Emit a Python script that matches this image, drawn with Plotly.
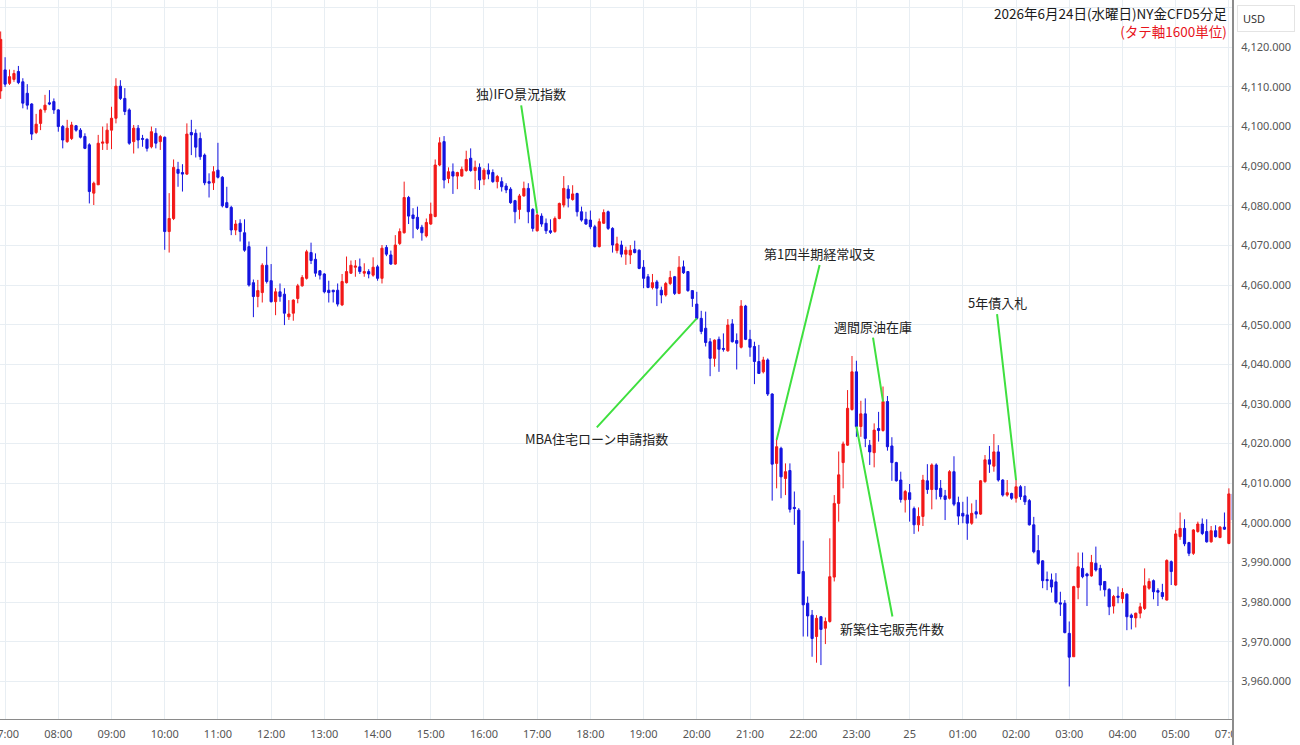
import pandas as pd
import plotly.graph_objects as go

# ---- data (5-minute bars, first bar 06:55) ----
open_ = [4109.0, 4114.3, 4110.9, 4111.9, 4113.9, 4111.3, 4108.4, 4105.7, 4098.5, 4100.8,
         4104.2, 4106.0, 4106.3, 4104.2, 4100.0, 4096.2, 4097.0, 4100.2, 4099.1, 4097.5,
         4095.4, 4083.2, 4085.3, 4095.8, 4095.8, 4099.1, 4102.1, 4110.2, 4107.1, 4104.2,
         4096.2, 4099.6, 4097.0, 4096.8, 4094.9, 4098.3, 4096.2, 4097.3, 4073.5, 4076.8,
         4089.2, 4088.4, 4088.0, 4098.5, 4098.3, 4097.0, 4092.8, 4086.1, 4085.8, 4089.0,
         4087.2, 4080.8, 4079.6, 4073.9, 4075.6, 4073.2, 4069.7, 4060.6, 4057.1, 4058.1,
         4065.0, 4061.1, 4055.8, 4058.3, 4057.7, 4052.0, 4052.9, 4056.6, 4059.8, 4061.7,
         4068.2, 4066.5, 4063.6, 4062.8, 4058.7, 4058.7, 4058.7, 4055.0, 4060.6, 4063.0,
         4064.5, 4064.6, 4063.0, 4063.4, 4062.5, 4064.6, 4061.7, 4069.5, 4067.6, 4065.3,
         4070.5, 4073.2, 4082.1, 4077.7, 4077.1, 4074.6, 4072.4, 4075.4, 4077.3, 4090.3,
         4096.2, 4086.9, 4088.6, 4087.5, 4087.5, 4088.9, 4092.0, 4088.9, 4089.7, 4086.7,
         4089.0, 4088.4, 4086.1, 4086.1, 4085.0, 4084.2, 4081.3, 4079.1, 4082.5, 4084.4,
         4079.1, 4073.7, 4077.4, 4075.6, 4073.7, 4073.5, 4076.8, 4080.2, 4084.2, 4081.6,
         4083.1, 4078.5, 4076.6, 4076.4, 4074.7, 4069.7, 4075.6, 4078.5, 4074.3, 4068.7,
         4070.1, 4067.8, 4067.6, 4069.0, 4068.8, 4064.5, 4062.1, 4059.4, 4060.8, 4058.7,
         4057.5, 4060.4, 4062.1, 4057.9, 4064.6, 4063.4, 4058.6, 4055.2, 4051.6, 4049.1,
         4045.7, 4041.5, 4046.3, 4044.0, 4043.4, 4050.2, 4046.0, 4044.3, 4054.7, 4046.3,
         4044.5, 4040.7, 4038.1, 4041.1, 4032.5, 4015.0, 4018.8, 4011.2, 4013.2, 4003.9,
         4003.2, 3987.7, 3979.7, 3976.7, 3971.3, 3976.3, 3973.4, 3975.1, 3986.3, 4004.9,
         4015.2, 4019.6, 4028.6, 4038.1, 4024.3, 4027.5, 4019.6, 4017.7, 4023.8, 4023.3,
         4030.6, 4019.4, 4015.2, 4010.8, 4005.8, 4007.6, 4003.6, 3999.5, 4001.6, 4010.6,
         4008.4, 4014.6, 4008.7, 4006.8, 4006.2, 4012.9, 4005.1, 4002.4, 4002.0, 3999.9,
         4002.8, 4002.2, 4010.4, 4015.9, 4014.3, 4017.9, 4010.8, 4007.0, 4007.4, 4006.2,
         4009.1, 4006.8, 4005.6, 3999.5, 3993.0, 3990.4, 3985.7, 3985.6, 3985.1, 3979.8,
         3979.7, 3972.1, 3966.2, 3983.7, 3988.5, 3987.1, 3986.6, 3989.8, 3988.5, 3985.2,
         3983.2, 3979.0, 3981.5, 3980.9, 3982.0, 3976.7, 3976.0, 3977.2, 3978.4, 3983.5,
         3985.4, 3982.9, 3982.4, 3980.5, 3990.2, 3984.3, 3996.5, 3998.6, 3995.0, 3992.3,
         3997.8, 3999.7, 3997.8, 3995.2, 3998.0, 3996.3, 3998.9, 3994.8, 4007.3]
high = [4124.0, 4117.5, 4114.4, 4114.3, 4115.3, 4112.2, 4110.7, 4105.9, 4103.2, 4104.5,
        4108.0, 4109.2, 4107.1, 4104.4, 4100.4, 4101.7, 4101.2, 4100.4, 4099.6, 4098.3,
        4095.8, 4086.1, 4097.9, 4100.0, 4100.8, 4105.0, 4112.2, 4111.7, 4109.7, 4104.6,
        4100.4, 4100.4, 4097.9, 4097.0, 4100.0, 4099.6, 4097.9, 4097.5, 4083.2, 4091.7,
        4091.1, 4090.5, 4100.8, 4101.7, 4099.3, 4098.5, 4093.2, 4088.2, 4090.0, 4095.9,
        4087.5, 4084.8, 4080.0, 4076.4, 4076.6, 4076.6, 4071.0, 4061.4, 4061.3, 4065.5,
        4069.7, 4065.3, 4059.2, 4060.4, 4059.2, 4056.2, 4056.4, 4060.3, 4062.5, 4068.9,
        4070.7, 4068.0, 4063.8, 4063.0, 4061.1, 4058.8, 4060.4, 4062.8, 4067.2, 4066.2,
        4066.3, 4066.7, 4065.5, 4064.0, 4067.0, 4065.1, 4070.1, 4070.1, 4068.7, 4072.6,
        4074.3, 4086.1, 4082.5, 4079.4, 4079.8, 4075.2, 4076.8, 4080.8, 4091.7, 4097.3,
        4097.6, 4089.7, 4090.7, 4088.6, 4089.9, 4093.9, 4094.5, 4091.4, 4090.7, 4089.5,
        4090.7, 4089.2, 4087.8, 4087.2, 4085.7, 4084.7, 4081.5, 4083.0, 4086.1, 4085.7,
        4079.4, 4078.1, 4078.1, 4076.8, 4076.6, 4077.3, 4080.8, 4087.5, 4085.2, 4085.2,
        4083.3, 4079.8, 4078.5, 4078.8, 4075.2, 4076.8, 4079.1, 4078.8, 4074.6, 4072.2,
        4071.2, 4069.7, 4070.1, 4071.2, 4069.0, 4066.3, 4062.8, 4062.8, 4061.3, 4059.6,
        4060.8, 4063.6, 4062.3, 4067.3, 4066.2, 4063.4, 4058.6, 4058.3, 4053.5, 4053.3,
        4046.6, 4046.3, 4047.0, 4047.8, 4051.4, 4051.4, 4047.8, 4056.2, 4055.0, 4048.7,
        4045.7, 4044.9, 4041.9, 4041.5, 4032.7, 4020.9, 4019.2, 4015.0, 4015.0, 4007.9,
        4003.7, 3995.5, 3981.4, 3978.0, 3976.7, 3976.5, 3976.1, 3996.1, 4007.0, 4018.0,
        4020.5, 4033.5, 4042.1, 4040.9, 4030.8, 4031.4, 4020.9, 4025.1, 4028.0, 4034.4,
        4032.0, 4021.6, 4015.4, 4012.9, 4008.3, 4009.8, 4004.1, 4003.9, 4012.1, 4014.8,
        4015.0, 4015.0, 4010.8, 4008.3, 4013.3, 4016.8, 4006.6, 4005.3, 4006.6, 4004.9,
        4005.8, 4010.8, 4017.1, 4019.4, 4022.4, 4019.6, 4011.0, 4010.8, 4007.6, 4010.8,
        4009.5, 4009.3, 4006.0, 4001.5, 3996.9, 3990.6, 3987.7, 3987.2, 3987.3, 3982.6,
        3980.5, 3975.1, 3984.1, 3992.5, 3992.5, 3987.4, 3991.9, 3994.0, 3989.4, 3985.2,
        3983.5, 3981.8, 3983.9, 3983.5, 3982.2, 3977.1, 3977.3, 3979.8, 3988.5, 3986.0,
        3985.7, 3983.5, 3984.6, 3990.8, 3990.5, 3998.2, 4002.6, 4000.9, 3995.2, 3998.4,
        4000.3, 4001.1, 4000.9, 3999.2, 3999.4, 3999.2, 4002.6, 4008.7, 4007.6]
low = [4107.0, 4110.0, 4110.5, 4111.3, 4110.7, 4104.6, 4104.3, 4096.6, 4098.1, 4099.1,
       4103.5, 4105.4, 4103.2, 4098.7, 4094.5, 4095.9, 4096.6, 4098.7, 4097.0, 4094.3,
       4080.6, 4080.2, 4085.3, 4094.1, 4094.1, 4094.3, 4100.8, 4106.7, 4102.9, 4095.4,
       4093.2, 4094.5, 4094.9, 4093.7, 4094.5, 4094.5, 4094.1, 4068.9, 4068.2, 4076.4,
       4084.8, 4083.6, 4087.8, 4092.8, 4092.2, 4091.6, 4085.2, 4082.1, 4084.0, 4086.9,
       4079.6, 4079.4, 4072.6, 4072.6, 4071.0, 4068.4, 4059.6, 4051.9, 4054.4, 4055.6,
       4060.4, 4055.6, 4052.4, 4055.8, 4049.9, 4051.2, 4051.0, 4055.4, 4059.6, 4061.4,
       4065.3, 4062.1, 4061.4, 4057.9, 4055.6, 4055.6, 4054.6, 4054.7, 4060.4, 4062.8,
       4062.1, 4062.8, 4062.1, 4061.7, 4062.1, 4061.1, 4060.4, 4067.3, 4065.1, 4065.1,
       4070.1, 4073.0, 4075.4, 4071.8, 4073.9, 4071.2, 4072.0, 4075.2, 4077.1, 4090.0,
       4084.4, 4085.7, 4083.0, 4084.2, 4087.4, 4088.6, 4088.6, 4084.2, 4084.0, 4085.2,
       4086.7, 4085.8, 4084.4, 4083.6, 4083.2, 4080.5, 4075.6, 4076.6, 4082.3, 4075.6,
       4073.5, 4073.5, 4074.7, 4072.9, 4072.9, 4073.2, 4076.6, 4079.6, 4079.6, 4081.3,
       4077.3, 4076.0, 4075.2, 4074.1, 4069.5, 4069.5, 4075.4, 4073.9, 4068.2, 4068.0,
       4067.0, 4065.1, 4065.3, 4068.0, 4064.0, 4059.2, 4059.2, 4058.9, 4054.7, 4055.4,
       4057.1, 4060.0, 4057.5, 4057.7, 4062.8, 4058.3, 4054.5, 4051.2, 4047.6, 4044.5,
       4037.0, 4039.4, 4038.1, 4043.2, 4043.2, 4045.5, 4038.7, 4044.0, 4046.1, 4041.9,
       4035.0, 4037.6, 4037.7, 4032.0, 4005.6, 4008.7, 4006.2, 4007.0, 4002.6, 3999.5,
       3987.1, 3971.3, 3971.3, 3966.2, 3964.7, 3964.1, 3969.4, 3974.8, 3985.2, 4000.3,
       4008.7, 4019.4, 4028.3, 4021.7, 4021.7, 4019.1, 4014.6, 4014.0, 4020.5, 4023.0,
       4018.2, 4010.6, 4010.4, 4005.1, 4002.6, 4000.3, 3997.2, 3997.8, 3999.2, 4007.3,
       4003.4, 4005.9, 4005.9, 4000.7, 4005.9, 4004.2, 3999.5, 3999.9, 3995.7, 3999.5,
       4001.1, 4002.0, 4010.1, 4012.6, 4012.9, 4010.4, 4006.6, 4006.6, 4005.8, 4005.1,
       4005.8, 4004.5, 3999.3, 3992.3, 3989.4, 3983.5, 3983.0, 3982.4, 3979.6, 3976.5,
       3972.1, 3958.7, 3966.2, 3980.7, 3986.0, 3979.0, 3986.4, 3987.7, 3982.9, 3981.4,
       3976.7, 3977.1, 3979.7, 3979.7, 3972.9, 3973.1, 3973.6, 3975.9, 3978.0, 3983.1,
       3980.7, 3979.0, 3980.7, 3980.4, 3984.3, 3984.1, 3995.7, 3994.1, 3991.6, 3991.9,
       3997.5, 3996.9, 3995.0, 3995.0, 3996.3, 3996.1, 3998.2, 3994.6, 4000.5]
close = [4122.0, 4110.7, 4112.6, 4113.4, 4111.1, 4105.9, 4105.4, 4098.1, 4100.6, 4104.2,
         4105.4, 4105.7, 4104.2, 4100.0, 4096.6, 4099.6, 4100.4, 4099.1, 4097.3, 4094.5,
         4083.6, 4085.7, 4095.8, 4096.1, 4099.1, 4102.1, 4110.2, 4107.1, 4103.8, 4095.8,
         4099.6, 4096.6, 4096.8, 4094.5, 4098.7, 4095.8, 4097.5, 4073.5, 4076.8, 4089.7,
         4088.2, 4088.0, 4098.1, 4097.9, 4094.8, 4092.4, 4085.8, 4085.7, 4088.6, 4087.2,
         4080.0, 4079.6, 4073.9, 4075.4, 4073.5, 4068.8, 4060.0, 4057.1, 4058.6, 4065.0,
         4060.9, 4055.8, 4058.3, 4057.1, 4052.9, 4052.7, 4056.2, 4059.8, 4061.9, 4068.4,
         4066.2, 4063.0, 4062.5, 4058.3, 4058.1, 4058.3, 4055.2, 4060.9, 4063.4, 4065.0,
         4064.8, 4063.4, 4063.4, 4062.8, 4064.5, 4061.7, 4069.3, 4067.8, 4065.3, 4070.1,
         4073.5, 4082.1, 4077.4, 4076.8, 4074.3, 4073.2, 4075.8, 4077.9, 4090.3, 4095.9,
         4086.5, 4088.6, 4087.5, 4088.4, 4089.2, 4091.7, 4088.9, 4089.7, 4086.5, 4089.0,
         4088.0, 4086.1, 4087.4, 4084.8, 4084.0, 4080.8, 4078.5, 4082.5, 4084.4, 4078.5,
         4074.3, 4077.7, 4075.4, 4073.7, 4073.3, 4076.8, 4080.6, 4084.4, 4081.9, 4083.0,
         4078.5, 4076.4, 4075.4, 4074.7, 4069.7, 4076.0, 4078.3, 4074.3, 4070.1, 4070.4,
         4067.8, 4068.8, 4068.8, 4068.2, 4064.2, 4061.7, 4059.4, 4060.6, 4059.2, 4057.5,
         4060.4, 4061.9, 4057.9, 4064.5, 4063.1, 4058.6, 4056.6, 4051.6, 4048.3, 4045.5,
         4041.5, 4046.1, 4043.8, 4043.8, 4049.9, 4045.7, 4045.3, 4054.7, 4046.3, 4044.3,
         4040.7, 4037.7, 4041.1, 4032.5, 4014.8, 4019.2, 4011.6, 4012.9, 4003.4, 4003.6,
         3987.2, 3979.3, 3976.5, 3970.8, 3975.9, 3973.1, 3975.1, 3986.4, 4004.9, 4012.1,
         4019.9, 4028.9, 4038.1, 4024.3, 4027.5, 4021.3, 4017.9, 4023.4, 4023.3, 4030.6,
         4019.2, 4015.2, 4010.6, 4005.9, 4007.9, 4005.9, 3999.5, 4001.6, 4010.8, 4008.4,
         4014.6, 4008.4, 4006.6, 4005.9, 4012.9, 4004.7, 4001.7, 4001.7, 3999.9, 4002.4,
         4002.2, 4010.6, 4015.9, 4014.8, 4017.9, 4010.8, 4007.0, 4007.6, 4006.2, 4009.1,
         4006.6, 4005.3, 3999.5, 3992.7, 3989.8, 3985.4, 3985.4, 3983.8, 3980.0, 3979.5,
         3972.3, 3966.1, 3983.9, 3988.9, 3986.4, 3986.6, 3990.0, 3988.1, 3984.3, 3983.1,
         3978.8, 3981.4, 3981.2, 3982.4, 3976.3, 3976.1, 3977.2, 3978.8, 3984.1, 3985.2,
         3982.6, 3982.5, 3981.4, 3990.5, 3987.7, 3997.2, 3998.6, 3994.7, 3992.3, 3998.2,
         3999.7, 3997.3, 3995.2, 3998.0, 3996.5, 3998.9, 3998.4, 4007.3, 4000.7]

bar_times = pd.date_range("2026-06-24 06:55", periods=len(open_), freq="5min")

tick_times = pd.date_range("2026-06-24 07:00", "2026-06-25 06:00", freq="1h")
tick_labels = ["07:00", "08:00", "09:00", "10:00", "11:00", "12:00", "13:00", "14:00",
               "15:00", "16:00", "17:00", "18:00", "19:00", "20:00", "21:00", "22:00",
               "23:00", "25", "01:00", "02:00", "03:00", "04:00", "05:00", "07:00"]

# events: label, bar time, which price of that bar the line points to
event_labels = ["独)IFO景況指数", "MBA住宅ローン申請指数", "第1四半期経常収支",
                "新築住宅販売件数", "週間原油在庫", "5年債入札"]
event_times = ["2026-06-24 17:00", "2026-06-24 20:00", "2026-06-24 21:30",
               "2026-06-24 23:00", "2026-06-24 23:30", "2026-06-25 02:00"]
event_points = ["high", "close", "high", "close", "close", "high"]

# label placement (pixel offsets of the line start from the pointed bar)
label_offsets = [(-16, -108, "bottom"), (-100, 109, "top"), (43, -175, "bottom"),
                 (36, 190, "top"), (-10, -64, "bottom"), (-19, -166, "bottom")]

RED = "#f21818"
BLUE = "#1414e0"
GREEN = "#3fe03f"
GRID = "#e8eef3"

fig = go.Figure()
fig.add_trace(go.Candlestick(
    x=bar_times, open=open_, high=high, low=low, close=close,
    increasing=dict(line=dict(color=RED, width=1), fillcolor=RED),
    decreasing=dict(line=dict(color=BLUE, width=1), fillcolor=BLUE),
    whiskerwidth=0, hoverinfo="skip", showlegend=False,
))

series = {"open": open_, "high": high, "low": low, "close": close}
idx_of = {t: i for i, t in enumerate(bar_times)}
annotations = []
for lab, t, pt, (ax, ay, ya) in zip(event_labels, event_times, event_points, label_offsets):
    ts = pd.Timestamp(t)
    annotations.append(dict(
        x=ts, y=series[pt][idx_of[ts]], xref="x", yref="y",
        ax=ax, ay=ay, axref="pixel", ayref="pixel",
        text=lab, showarrow=True, arrowhead=0, arrowwidth=2, arrowcolor=GREEN,
        xanchor="center", yanchor=ya,
        font=dict(family="Noto Sans CJK JP", size=13, color="#222222"),
    ))

PW, PH = 1233.0, 719.0
annotations.append(dict(
    x=1228 / PW, y=1 - 2 / PH, xref="paper", yref="paper", showarrow=False,
    xanchor="right", yanchor="top", align="right", borderpad=0,
    text=("2026年6月24日(水曜日)NY金CFD5分足<br>"
          "<span style='color:#e8141c'>(タテ軸1600単位)</span>"),
    font=dict(family="Noto Sans CJK JP", size=13.5, color="#1a1a1a"),
))
annotations.append(dict(
    x=1237 / PW, y=1 - 5 / PH, xref="paper", yref="paper", showarrow=False,
    xanchor="left", yanchor="top", text="USD", align="left", width=46,
    bordercolor="#e4e4e4", borderwidth=1, borderpad=5, bgcolor="white",
    font=dict(family="Noto Sans", size=11, color="#333333"),
))

shapes = [
    dict(type="rect", xref="paper", yref="paper", x0=1 + 1 / PW, x1=1300 / PW,
         y0=-26 / PH, y1=-1.5 / PH, fillcolor="white", line=dict(width=0), layer="above"),
    dict(type="line", xref="paper", yref="paper", x0=1, x1=1, y0=-26 / PH, y1=1,
         line=dict(color="#8c8c8c", width=2), layer="above"),
]

fig.update_layout(
    width=1300, height=745,
    margin=dict(l=0, r=67, t=0, b=26, autoexpand=False),
    paper_bgcolor="white", plot_bgcolor="white",
    showlegend=False,
    annotations=annotations, shapes=shapes,
    xaxis=dict(
        type="date", range=["2026-06-24 06:54:15", "2026-06-25 06:04:39"],
        tickvals=tick_times, ticktext=tick_labels,
        showgrid=True, gridcolor=GRID, gridwidth=1,
        showline=True, linecolor="#8a8a8a", linewidth=1,
        ticks="outside", ticklen=5, tickcolor="rgba(0,0,0,0)",
        tickfont=dict(family="Noto Sans", size=11, color="#555555"),
        ticklabeloverflow="allow", rangeslider=dict(visible=False),
        zeroline=False, automargin=False,
    ),
    yaxis=dict(
        side="right", range=[3950.49, 4131.94], dtick=10, tick0=0,
        tickformat=",.3f",
        showgrid=True, gridcolor=GRID, gridwidth=1, zeroline=False,
        showline=False,
        ticks="outside", ticklen=5, tickcolor="rgba(0,0,0,0)",
        tickfont=dict(family="Noto Sans", size=11, color="#555555"),
        automargin=False,
    ),
)

fig.write_html("out.html")
